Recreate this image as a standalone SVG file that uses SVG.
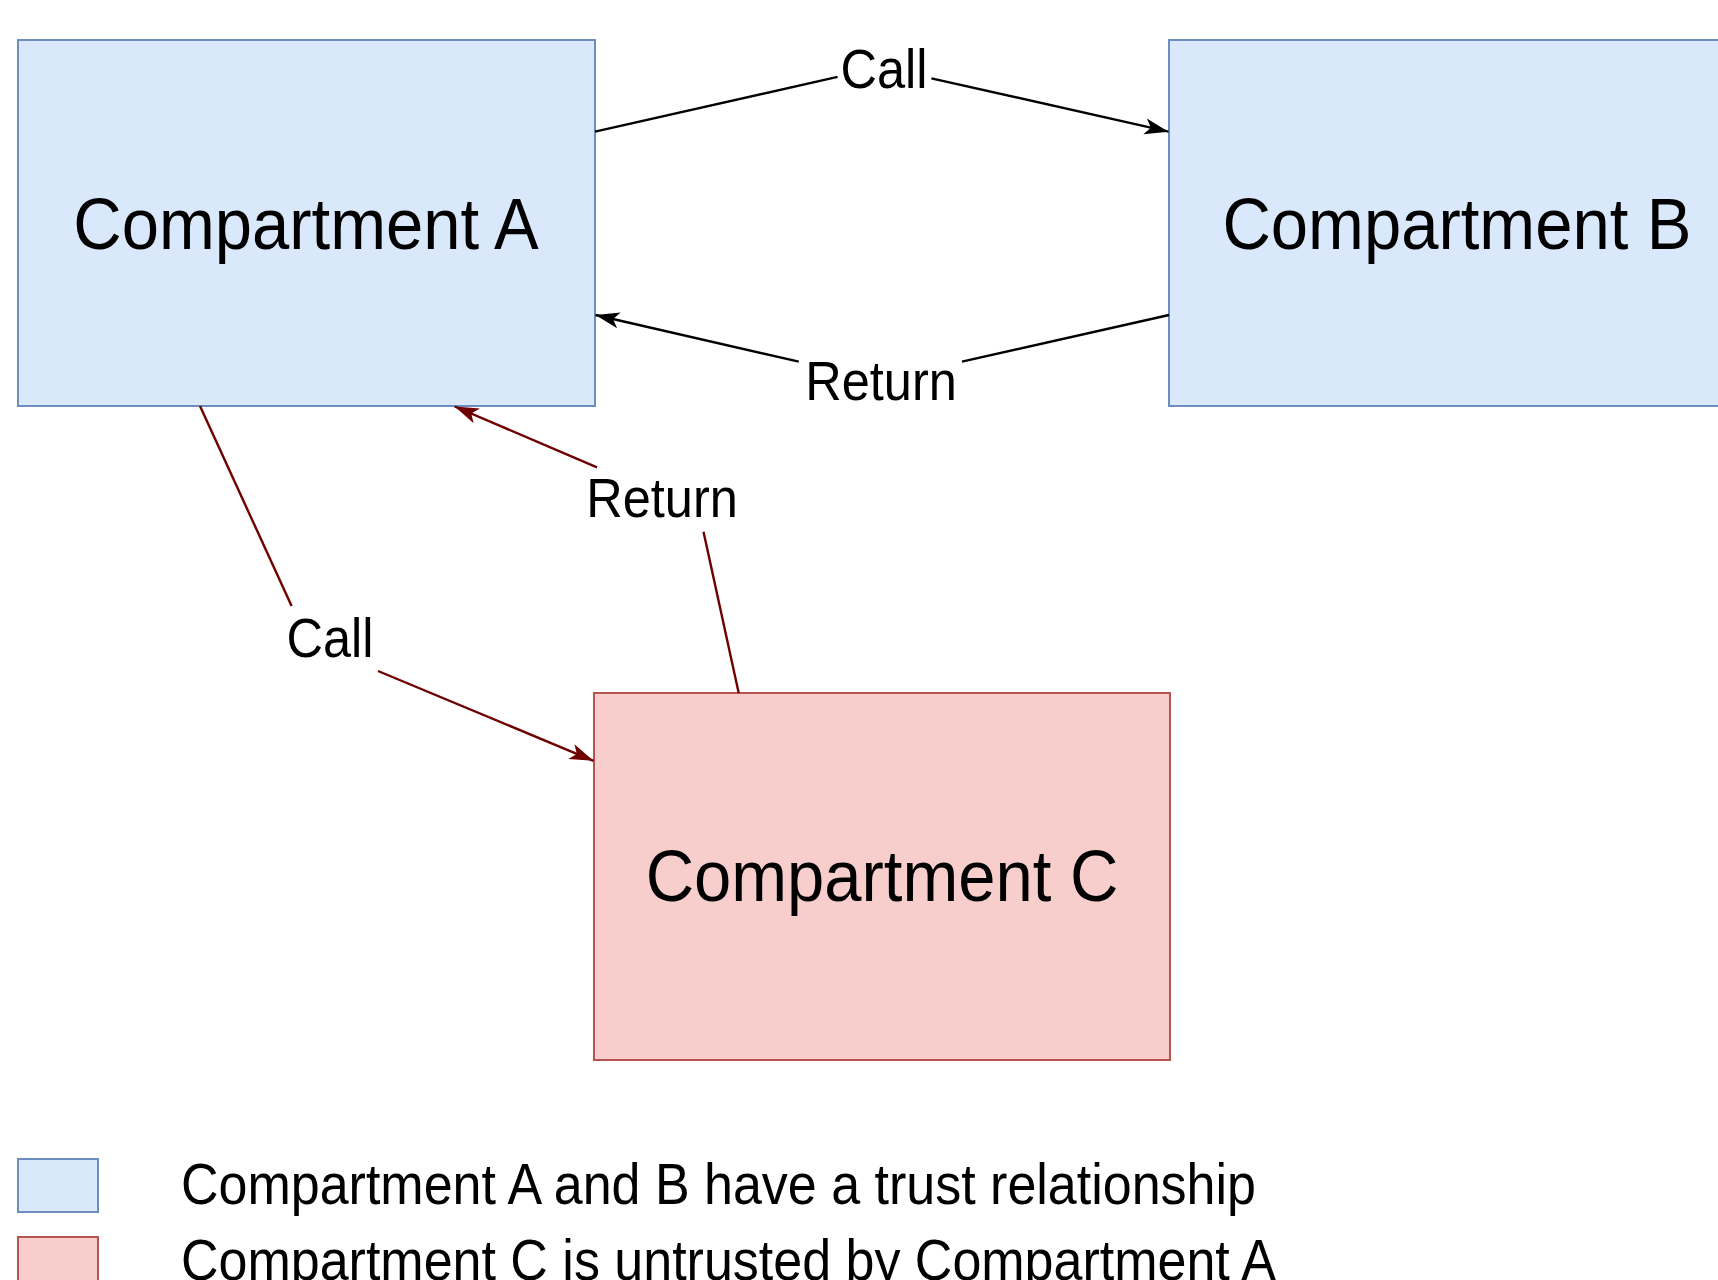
<svg xmlns="http://www.w3.org/2000/svg" width="1718" height="1280" viewBox="0 0 1718 1280">
<style>
  .trusted { fill: #dae8fc; stroke: #6c8ebf; stroke-width: 2; }
  .untrusted { fill: #f8cecc; stroke: #b85450; stroke-width: 2; }
  .big { font-family: "Liberation Sans", Arial, Helvetica, sans-serif; font-size: 67px; fill: #000; text-anchor: middle; }
  .lbl { font-family: "Liberation Sans", Arial, Helvetica, sans-serif; font-size: 50.5px; fill: #000; text-anchor: middle; }
  .leg { font-family: "Liberation Sans", Arial, Helvetica, sans-serif; font-size: 52px; fill: #000; }
  .edge-black { fill: none; stroke: #000; stroke-width: 2.4; }
  .edge-red { fill: none; stroke: #6f0000; stroke-width: 2.4; }
</style>
<defs>
  <marker id="arrow-black" markerUnits="userSpaceOnUse" markerWidth="26" markerHeight="20" viewBox="0 0 26 20" refX="25" refY="10" orient="auto">
    <path d="M1,2 L25,10 L1,18 L7,10 Z" fill="#000"/>
  </marker>
  <marker id="arrow-red" markerUnits="userSpaceOnUse" markerWidth="26" markerHeight="20" viewBox="0 0 26 20" refX="25" refY="10" orient="auto">
    <path d="M1,2 L25,10 L1,18 L7,10 Z" fill="#6f0000"/>
  </marker>
</defs>
<rect width="1718" height="1280" fill="#fff"/>

<g id="compartment-a">
  <rect class="trusted" x="18" y="40" width="577" height="366"/>
  <text class="big" transform="translate(306,249) scale(1,1.09)">Compartment A</text>
</g>
<g id="compartment-b">
  <rect class="trusted" x="1169" y="40" width="577" height="366"/>
  <text class="big" transform="translate(1457,249) scale(1,1.09)">Compartment B</text>
</g>
<g id="compartment-c">
  <rect class="untrusted" x="594" y="693" width="576" height="367"/>
  <text class="big" transform="translate(882,901) scale(1,1.09)">Compartment C</text>
</g>

<g id="connectors">
  <g id="call-a-b">
    <path class="edge-black" d="M595,131.7 L837.6,76.8"/>
    <path class="edge-black" d="M931.4,78.3 L1168.5,131.7" marker-end="url(#arrow-black)"/>
    <text class="lbl" transform="translate(884,87.5) scale(1,1.09)">Call</text>
  </g>
  <g id="return-b-a">
    <path class="edge-black" d="M1169,315 L962,361.7"/>
    <path class="edge-black" d="M798.8,361.7 L595.5,315" marker-end="url(#arrow-black)"/>
    <text class="lbl" transform="translate(881,400) scale(1,1.09)">Return</text>
  </g>
  <g id="call-a-c">
    <path class="edge-red" d="M200,406 L291.6,606"/>
    <path class="edge-red" d="M378,671 L593.5,760.8" marker-end="url(#arrow-red)"/>
    <text class="lbl" transform="translate(330,657) scale(1,1.09)">Call</text>
  </g>
  <g id="return-c-a">
    <path class="edge-red" d="M738.7,693 L703.5,531.7"/>
    <path class="edge-red" d="M597,467.3 L454.7,406.5" marker-end="url(#arrow-red)"/>
    <text class="lbl" transform="translate(662,517) scale(1,1.09)">Return</text>
  </g>
</g>

<g id="legend">
  <g id="legend-trusted">
    <rect class="trusted" x="18" y="1159" width="80" height="53"/>
    <text class="leg" transform="translate(181,1204) scale(1,1.09)">Compartment A and B have a trust relationship</text>
  </g>
  <g id="legend-untrusted">
    <rect class="untrusted" x="18" y="1237" width="80" height="60"/>
    <text class="leg" transform="translate(181,1280) scale(1,1.09)">Compartment C is untrusted by Compartment A</text>
  </g>
</g>
</svg>
